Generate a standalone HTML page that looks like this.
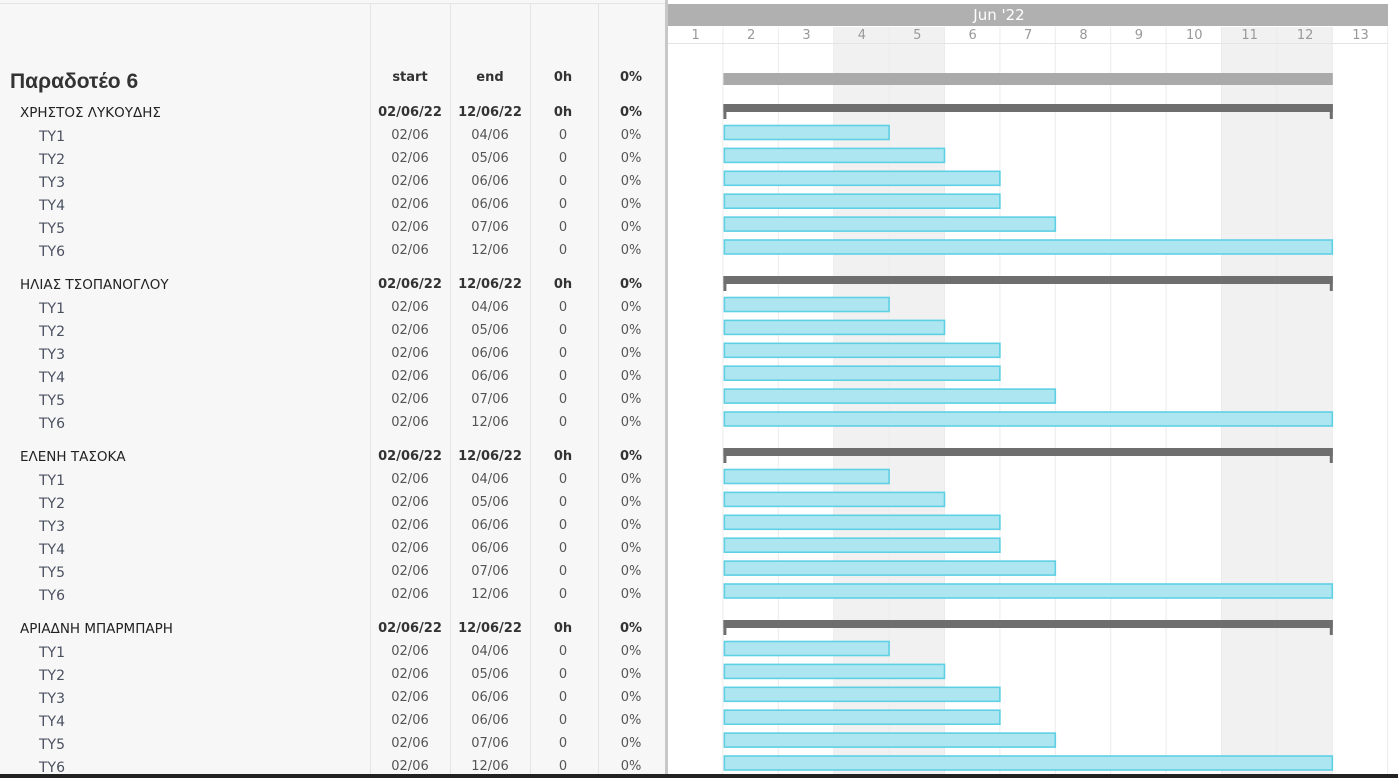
<!DOCTYPE html>
<html><head><meta charset="utf-8">
<style>
body{margin:0;width:1398px;height:778px;overflow:hidden;background:#fff;font-family:"Liberation Sans","DejaVu Sans",sans-serif;}
#root{position:relative;width:1398px;height:778px;}
.t{position:absolute;white-space:nowrap;line-height:16px;transform:translateY(-8px);}
.c{transform:translate(-50%,-8px);}
</style></head>
<body>
<div id="root">
<div style="position:absolute;left:0;top:0;width:667px;height:774px;background:#f7f7f7;"></div>
<svg id="svg" width="1398" height="778" style="position:absolute;left:0;top:0"></svg>
<div id="txt"></div>
</div>
<script>
const groups=["ΧΡΗΣΤΟΣ ΛΥΚΟΥΔΗΣ","ΗΛΙΑΣ ΤΣΟΠΑΝΟΓΛΟΥ","ΕΛΕΝΗ ΤΑΣΟΚΑ","ΑΡΙΑΔΝΗ ΜΠΑΡΜΠΑΡΗ"];
const tasks=["ΤΥ1","ΤΥ2","ΤΥ3","ΤΥ4","ΤΥ5","ΤΥ6"];
const taskStart=[2,2,2,2,2,2];
const taskEnd=[4,5,6,6,7,12];
const days=[1,2,3,4,5,6,7,8,9,10,11,12,13];
const weekend=[4,5,11,12];
const X0=668,DW=55.4;
const xs=d=>X0+(d-1)*DW;
const svg=document.getElementById('svg'),txt=document.getElementById('txt');
const NS='http://www.w3.org/2000/svg';
const DJ='font-family:"DejaVu Sans",sans-serif;';
function r(x,y,w,h,f,s,sw){const e=document.createElementNS(NS,'rect');e.setAttribute('x',x);e.setAttribute('y',y);e.setAttribute('width',w);e.setAttribute('height',h);e.setAttribute('fill',f);if(s){e.setAttribute('stroke',s);e.setAttribute('stroke-width',sw||1);}svg.appendChild(e);return e;}
function t(s,x,y,st,c){const e=document.createElement('div');e.className='t'+(c?' c':'');e.textContent=s;e.style.left=x+'px';e.style.top=(y+1)+'px';e.style.cssText+=st;txt.appendChild(e);return e;}
[370,450,530,598].forEach(x=>{const l=r(x,4,1,770,'#e4e4e4');});
r(0,3,667,1,'#e4e4e4');
r(665,0,3,774,'#c8c8c8');
weekend.forEach(d=>{const e=r(xs(d),27,DW,747,'#f1f1f1');});
days.forEach(d=>{r(xs(d)+DW-1,27,1,747,'#ebebeb');});
const hb=r(668,4,720,22,'#b0b0b0');
r(668,43,720,1,'#e4e4e4');
let e=t("Jun '22",999,14,DJ+'color:#fff;font-size:15px;',true);

days.forEach(d=>{const l=t(String(d),xs(d)+DW/2,35,DJ+'color:#999;font-size:13px;',true);});
const hs=DJ+'font-weight:bold;font-size:13px;color:#333;';
e=t('Παραδοτέο 6',10,81,'font-weight:bold;font-size:21px;color:#333;');
[['start',410],['end',490],['0h',563],['0%',631]].forEach(([s,x])=>{const l=t(s,x,77,hs,true);});
const minS=Math.min(...taskStart),maxE=Math.max(...taskEnd);
const pb=r(xs(minS),73,xs(maxE+1)-xs(minS),12,'#aaaaaa');
const pad=n=>String(n).padStart(2,'0');
groups.forEach((g,k)=>{
  const gy=112+172*k;
  const gs=DJ+'font-weight:bold;font-size:13px;color:#333;';
  let l=t(g,20,gy,DJ+'font-size:13.5px;color:#222;');
  t(pad(minS)+'/06/22',410,gy,gs,true);t(pad(maxE)+'/06/22',490,gy,gs,true);t('0h',563,gy,gs,true);t('0%',631,gy,gs,true);
  const x1=xs(minS),x2=xs(maxE+1);
  const gb=r(x1,gy-8,x2-x1,8,'#6e6e6e');
  r(x1,gy-8,3,15,'#6e6e6e');r(x2-3,gy-8,3,15,'#6e6e6e');
  tasks.forEach((tn,i)=>{
    const y=gy+23+22.9*i;
    const ts=DJ+'font-size:13px;color:#555;';
    let n=t(tn,39,y+1,DJ+'font-size:14px;color:#4a5060;');
    t(pad(taskStart[i])+'/06',410,y,ts,true);t(pad(taskEnd[i])+'/06',490,y,ts,true);t('0',563,y,ts,true);t('0%',631,y,ts,true);
    const b=r(xs(taskStart[i])+1,y-9.5,xs(taskEnd[i]+1)-xs(taskStart[i])-1.5,14,'#ade6f0','#5fd0e4',1.6);
    
    
  });
});
const bl=r(0,774,1398,4,'#222');
</script>
</body></html>
